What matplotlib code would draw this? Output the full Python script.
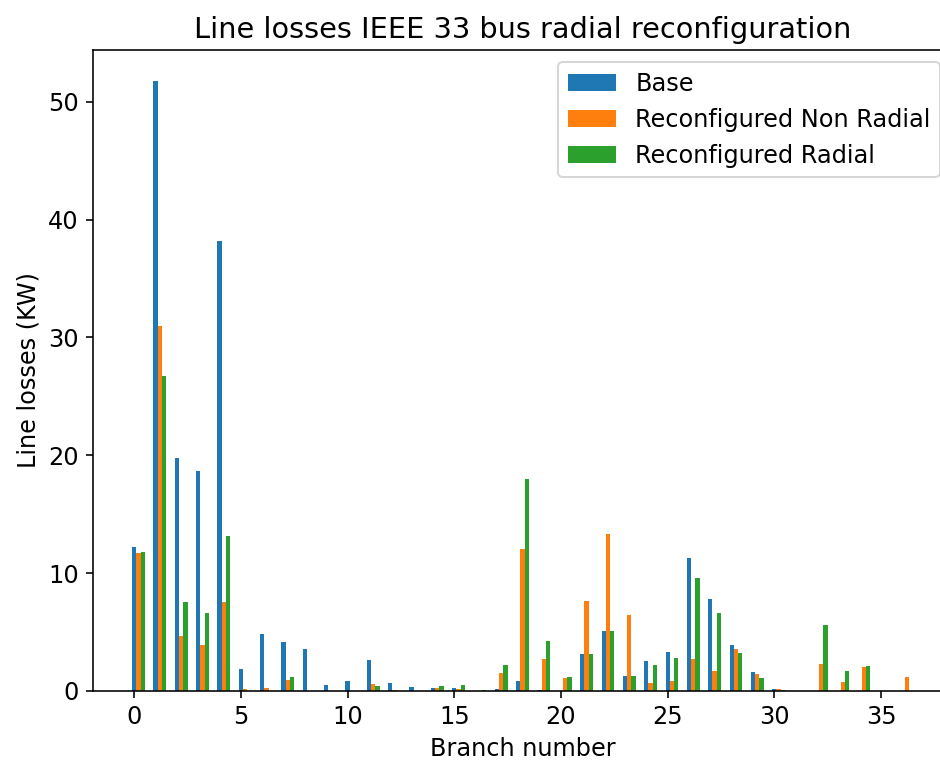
import numpy as np
import matplotlib.pyplot as plt

# line losses per branch (kW)
base = [12.2, 51.8, 19.8, 18.7, 38.2, 1.87, 4.8, 4.13, 3.54, 0.5,
        0.85, 2.63, 0.7, 0.34, 0.25, 0.25, 0.0, 0.15, 0.82, 0.05,
        0.0, 3.13, 5.12, 1.27, 2.55, 3.3, 11.26, 7.8, 3.88, 1.58,
        0.17, 0.0, 0.0, 0.0, 0.0, 0.0, 0.0]
non_radial = [11.7, 30.96, 4.64, 3.9, 7.53, 0.2, 0.25, 0.9, 0.0, 0.0,
              0.0, 0.6, 0.08, 0.0, 0.25, 0.17, 0.0, 1.53, 12.05, 2.7,
              1.1, 7.63, 13.36, 6.45, 0.71, 0.85, 2.72, 1.7, 3.6, 1.44,
              0.14, 0.0, 2.32, 0.79, 2.0, 0.0, 1.19]
radial = [11.8, 26.74, 7.53, 6.6, 13.15, 0.0, 0.0, 1.2, 0.0, 0.0,
          0.0, 0.42, 0.0, 0.0, 0.42, 0.48, 0.1, 2.2, 18.0, 4.2,
          1.15, 3.13, 5.06, 1.27, 2.2, 2.8, 9.56, 6.6, 3.22, 1.07,
          0.08, 0.0, 5.6, 1.7, 2.12, 0.0, 0.0]

x = np.arange(len(base))
w = 0.2

plt.rcParams['font.size'] = 12

dpi = 144
fig = plt.figure(figsize=(940 / dpi, 763 / dpi), dpi=dpi)
# the reference is cropped on the right, so the axes runs past the edge
ax = fig.add_axes([0.0989, 0.0944, 0.914, 0.8401])

ax.bar(x, base, w, label='Base')
ax.bar(x + w, non_radial, w, label='Reconfigured Non Radial')
ax.bar(x + 2 * w, radial, w, label='Reconfigured Radial')

ax.set_title('Line losses IEEE 33 bus radial reconfiguration')
ax.set_xlabel('Branch number')
ax.set_ylabel('Line losses (KW)')
ax.legend(loc='upper right')

fig.savefig('out.png', dpi=dpi)
